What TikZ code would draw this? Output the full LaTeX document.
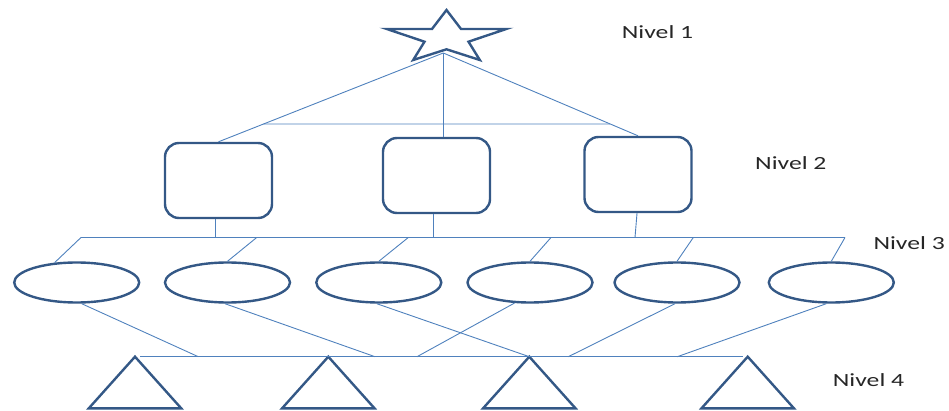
\documentclass[tikz,border=0pt]{standalone}
\usepackage{fontspec}
\setmainfont{Carlito}
\usetikzlibrary{shapes.geometric,calc}
\definecolor{shapeblue}{RGB}{52,88,134}
\definecolor{linkblue}{RGB}{79,129,189}
\definecolor{labelgray}{RGB}{38,38,38}
\begin{document}
\begin{tikzpicture}[x=1pt,y=-1pt,
  shapeline/.style={draw=shapeblue,line width=2.4pt,line join=miter},
  boxnode/.style={shapeline,rounded corners=14pt,minimum width=107pt,minimum height=75pt,inner sep=0pt},
  ellnode/.style={shapeline,ellipse,minimum width=125pt,minimum height=40pt,inner sep=0pt},
  link/.style={draw=linkblue,line width=0.9pt},
  lvl/.style={anchor=base west,inner sep=0pt,text=labelgray,font=\fontsize{18.6}{20}\selectfont}]
\useasboundingbox (0,0) rectangle (949,411);

% star (level 1)
\draw[shapeline] (446.5,10) -- (461,29) -- (506.2,29) -- (468.5,41.7) -- (479.8,60)
  -- (446.5,49.3) -- (413.2,60) -- (424.5,41.7) -- (386.8,29) -- (432,29) -- cycle;
\coordinate (s) at (443.3,53);

% boxes (level 2)
\node[boxnode] (b1) at (218.5,180.5) {};
\node[boxnode] (b2) at (436.5,175.5) {};
\node[boxnode] (b3) at (638,174.5) {};

% ellipses (level 3)
\node[ellnode] (e1) at (76.7,282.5) {};
\node[ellnode] (e2) at (227.5,282.5) {};
\node[ellnode] (e3) at (378.8,282.5) {};
\node[ellnode] (e4) at (530,282.5) {};
\node[ellnode] (e5) at (677,282.5) {};
\node[ellnode] (e6) at (831.3,282.5) {};

% triangles (level 4)
\foreach \n/\x in {t1/135,t2/328.3,t3/529.3,t4/747.7}{
  \coordinate (\n) at (\x,356.7);
  \draw[shapeline] (\n) -- ++(46.2,51.6) -- ++(-92.4,0) -- cycle;
}

% links star -> boxes
\draw[link] (s) -- (b1.north);
\draw[link] (s) -- (s |- b2.north);
\draw[link] (s) -- (b3.north);
\draw[link] ($(s)!0.8!(b1.north)$) -- ($(s)!0.857!(b3.north)$);

% bus between boxes and ellipses
\coordinate (busl) at (81,237.5);
\coordinate (busr) at (845,237.5);
\draw[link] (busl) -- (busr);
\draw[link] ([xshift=-3.5pt]b1.south) -- ([xshift=-3.5pt]b1.south |- busl);
\draw[link] ([xshift=-3.5pt]b2.south) -- ([xshift=-3.5pt]b2.south |- busl);
\draw[link] ([xshift=-1pt]b3.south) -- ([xshift=-3pt]b3.south |- busl);
\draw[link] (busl) -- (e1.138);
\coordinate (u2) at (256.7,237.5); \draw[link] (u2) -- (e2.north);
\coordinate (u3) at (408.3,237.5); \draw[link] (u3) -- (e3.north);
\coordinate (u4) at (551,237.5);   \draw[link] (u4) -- (e4.north);
\coordinate (u5) at (693.3,237.5); \draw[link] (u5) -- (e5.north);
\draw[link] (busr) -- (e6.north);

% bus between ellipses and triangles
\coordinate (lbl) at (140,356.7);
\coordinate (lbr) at (743.3,356.7);
\draw[link] (lbl) -- (lbr);
\coordinate (d1) at (198.3,356.7); \draw[link] ([xshift=5pt]e1.south) -- (d1);
\coordinate (d2) at (375,356.7);   \draw[link] ([xshift=-2.5pt]e2.south) -- (d2);
\draw[link] ([xshift=-2pt]e3.south) -- (t3);
\coordinate (d4) at (417,356.7);   \draw[link] (e4.233) -- (d4);
\coordinate (d5) at (568.3,356.7); \draw[link] ([xshift=-2pt]e5.south) -- (d5);
\coordinate (d6) at (677.3,356.7); \draw[link] ([xshift=-5pt]e6.south) -- (d6);

% level labels
\node[lvl] (n1) at (621.7,38.3) {\scalebox{1.38}[1]{Nivel 1}};
\node[lvl] (n2) at (755,170) {\scalebox{1.38}[1]{Nivel 2}};
\node[lvl] (n3) at (873.3,249.3) {\scalebox{1.38}[1]{Nivel 3}};
\node[lvl] (n4) at (832.7,386) {\scalebox{1.38}[1]{Nivel 4}};
\end{tikzpicture}
\end{document}
